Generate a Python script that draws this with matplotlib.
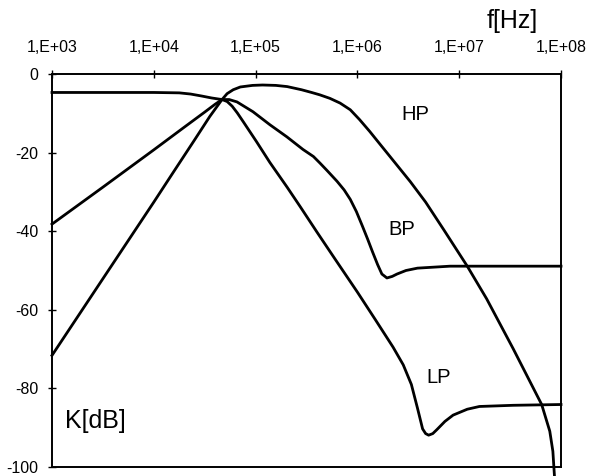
import matplotlib
matplotlib.use('Agg')
import matplotlib.pyplot as plt
from matplotlib.ticker import FixedLocator, FuncFormatter, NullLocator
import math

plt.rcParams['font.family'] = ['Liberation Sans', 'DejaVu Sans']
plt.rcParams['axes.unicode_minus'] = False

# values (f in Hz, K in dB)
lp_f = [1000, 5000, 10000, 17800, 23000, 29500, 37000, 46800, 52500, 58900,
        66100, 75900, 102000, 138000, 204000, 275000, 400000, 600000,
        1000000, 1500000, 2240000, 2820000, 3390000, 3890000, 4370000,
        4680000, 5010000, 5500000, 6030000, 7240000, 8710000, 12000000,
        15800000, 33900000, 100000000]
lp_k = [-4.7, -4.7, -4.7, -4.8, -5.1, -5.6, -6.1, -6.5, -7.0, -8.2,
        -9.9, -12.2, -17.2, -22.5, -28.8, -33.8, -40.2, -47.0,
        -55.5, -62.5, -69.5, -74.0, -79.0, -85.0, -90.3,
        -91.5, -91.9, -91.5, -90.5, -88.4, -86.8, -85.3,
        -84.6, -84.3, -84.1]

bp_f = [1000, 3160, 10000, 20000, 31600, 40000, 46800, 55000, 65600, 94200,
        138000, 203000, 292000, 370000, 430000, 501000, 631000, 741000,
        851000, 977000, 1120000, 1260000, 1410000, 1580000, 1740000,
        1950000, 2200000, 2450000, 3000000, 3890000, 8130000, 100000000]
bp_k = [-38.2, -28.8, -19.3, -13.5, -9.7, -7.7, -6.5, -6.5, -7.1, -9.6,
        -12.9, -16.0, -19.2, -21.0, -22.7, -24.5, -27.3, -29.5,
        -31.9, -35.0, -38.7, -42.0, -45.3, -48.5, -50.9,
        -51.9, -51.5, -50.9, -50.0, -49.4, -48.9, -48.9]

hp_f = [1000, 3160, 10000, 15100, 25100, 35500, 46800, 52500, 60300, 70800,
        93300, 117000, 158000, 204000, 282000, 355000, 427000, 537000,
        676000, 851000, 1050000, 1320000, 1660000, 2090000, 3310000,
        4680000, 7080000, 12000000, 18600000, 33900000, 64600000, 77600000,
        83200000, 86100000]
hp_k = [-71.6, -52.1, -32.6, -25.5, -16.8, -10.8, -6.5, -5.0, -4.0, -3.3,
        -2.9, -2.8, -2.9, -3.2, -4.0, -4.7, -5.3, -6.2,
        -7.4, -9.1, -11.6, -14.6, -17.8, -21.0, -27.4,
        -32.6, -39.7, -48.9, -57.2, -69.9, -84.1, -90.9,
        -96.0, -102.0]

x_ticks = [1e3, 1e4, 1e5, 1e6, 1e7, 1e8]
y_ticks = [0, -20, -40, -60, -80, -100]

fig = plt.figure(figsize=(5.95, 4.76), dpi=100)
ax = fig.add_axes([52/595, 1-467/476, 509/595, 393/476])

for f, k in [(lp_f, lp_k), (bp_f, bp_k), (hp_f, hp_k)]:
    ax.plot(f, k, color='black', lw=2.0, solid_joinstyle='round', clip_on=False)

ax.set_xscale('log')
ax.set_xlim(1e3, 1e8)
ax.set_ylim(-100, 0)

ax.xaxis.set_major_locator(FixedLocator(x_ticks))
ax.xaxis.set_minor_locator(NullLocator())
ax.xaxis.set_major_formatter(FuncFormatter(lambda v, p: '1,E+%02d' % round(math.log10(v))))
ax.xaxis.tick_top()
ax.set_yticks(y_ticks)

ax.tick_params(axis='x', which='major', direction='inout', length=6, width=1,
               pad=10.5, labelsize=11.5, top=True, bottom=False)
ax.tick_params(axis='y', which='major', direction='inout', length=6, width=1,
               pad=7, labelsize=11.5)
for s in ax.spines.values():
    s.set_linewidth(1.4)

ax.text(3.7e6, -10.3, 'HP', fontsize=14.5, ha='center', va='center')
ax.text(2.75e6, -39.5, 'BP', fontsize=14.5, ha='center', va='center')
ax.text(6.3e6, -77.2, 'LP', fontsize=14.5, ha='center', va='center')
ax.text(0.0255, 0.116, 'K[dB]', transform=ax.transAxes, fontsize=18,
        ha='left', va='center')
fig.text(512/595, 1-21/476, 'f[Hz]', fontsize=18, ha='center', va='center')

fig.savefig('out.png', dpi=100)
